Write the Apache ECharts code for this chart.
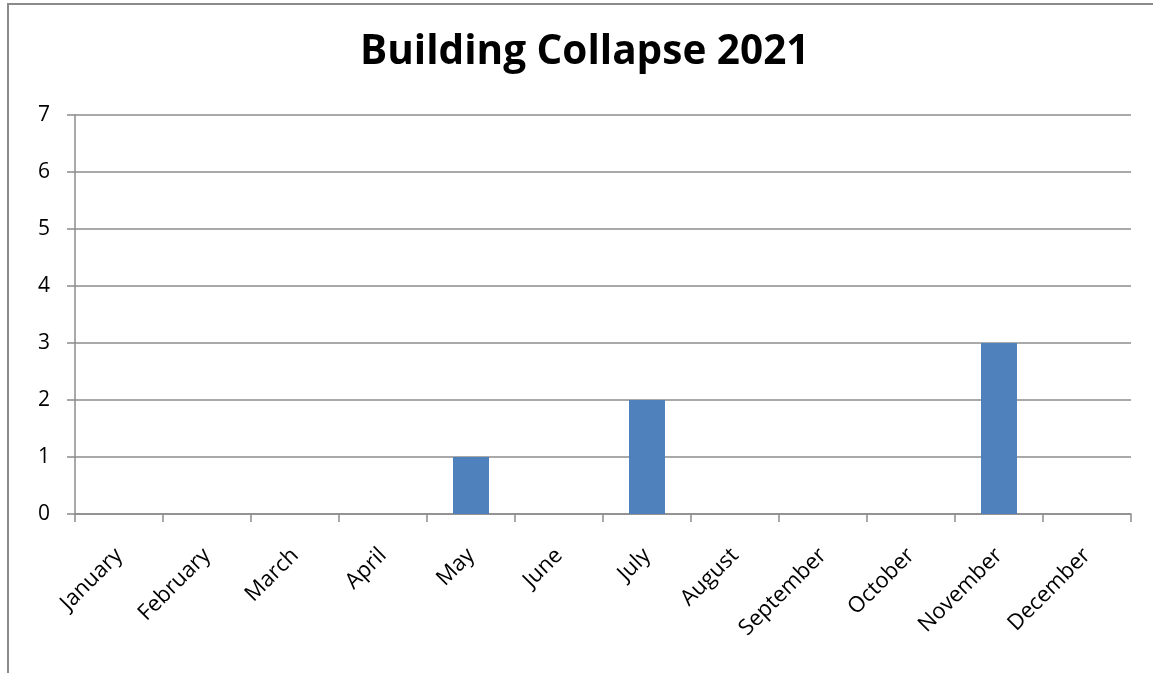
<!DOCTYPE html>
<html>
<head>
<meta charset="utf-8">
<script src="https://cdn.jsdelivr.net/npm/echarts@6/dist/echarts.min.js"></script>
<style>
  html, body { margin: 0; padding: 0; background: #fff; }
  #chart { width: 1153px; height: 673px; }
</style>
</head>
<body>
<div id="chart"></div>
<script>
// Monthly building collapse counts for 2021
const months = ['January', 'February', 'March', 'April', 'May', 'June',
                'July', 'August', 'September', 'October', 'November', 'December'];
const collapses = [0, 0, 0, 0, 1, 0, 2, 0, 0, 0, 3, 0];
const yTicks = { min: 0, max: 7, interval: 1 };

const chart = echarts.init(document.getElementById('chart'));
const axisGray = '#8c8c8c';
const fontFam = '"Open Sans", "Noto Sans", sans-serif';

chart.setOption({
  animation: false,
  title: {
    text: 'Building Collapse 2021',
    left: 355,
    top: 27,
    textStyle: { fontFamily: fontFam, fontWeight: 'bold', fontSize: 40.5, color: '#000' }
  },
  graphic: [{
    type: 'rect',
    shape: { x: 8, y: 4, width: 1300, height: 800 },
    style: { fill: 'none', stroke: '#8a8a8a', lineWidth: 2 },
    silent: true
  }],
  grid: { left: 75, right: 22, top: 115, bottom: 159, containLabel: false },
  xAxis: {
    type: 'category',
    data: months,
    boundaryGap: true,
    axisLine: { lineStyle: { color: axisGray, width: 1.5 } },
    axisTick: { show: true, length: 8, lineStyle: { color: axisGray, width: 1.5 } },
    axisLabel: {
      rotate: 45, margin: 38, interval: 0,
      fontFamily: fontFam, fontSize: 22, color: '#000'
    }
  },
  yAxis: {
    type: 'value',
    min: yTicks.min, max: yTicks.max, interval: yTicks.interval,
    axisLine: { show: true, lineStyle: { color: axisGray, width: 1.5 } },
    axisTick: { show: true, length: 8, lineStyle: { color: axisGray, width: 1.5 } },
    splitLine: { show: true, lineStyle: { color: axisGray, width: 1.5 } },
    axisLabel: { margin: 25, fontFamily: fontFam, fontSize: 21, color: '#000' }
  },
  series: [{
    type: 'bar',
    data: collapses,
    barWidth: 36,
    itemStyle: { color: '#4F81BD' }
  }]
});
</script>
</body>
</html>
